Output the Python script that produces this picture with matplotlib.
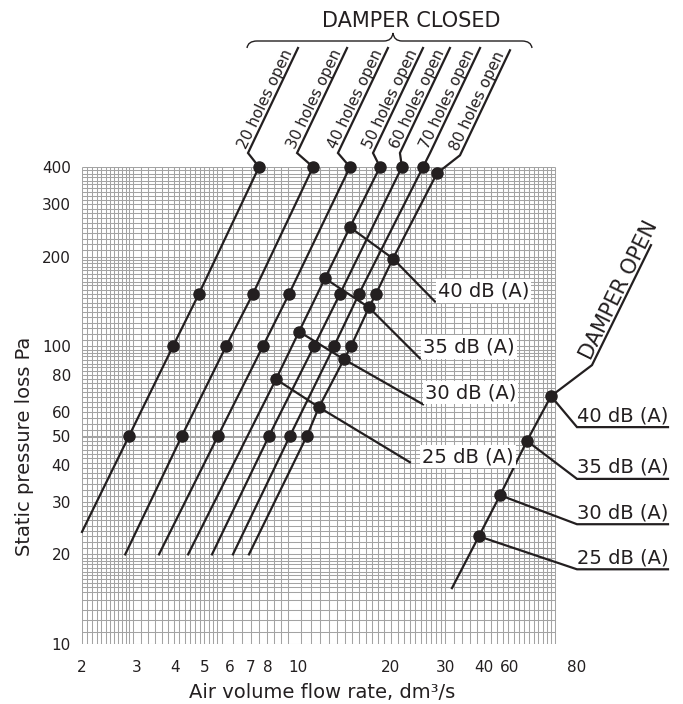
import math
import numpy as np
import matplotlib
matplotlib.use('Agg')
import matplotlib.pyplot as plt
from matplotlib.lines import Line2D
from matplotlib.path import Path
from matplotlib.patches import PathPatch
from matplotlib.ticker import FixedLocator, FixedFormatter, NullLocator

plt.rcParams['font.family'] = ['DejaVu Sans']

W, H = 683, 704
INK = '#231f20'
GRID = '#a3a3a3'

# ---- data ----
hole_labels = ['20 holes open', '30 holes open', '40 holes open', '50 holes open',
               '60 holes open', '70 holes open', '80 holes open']

# lower end of each "damper closed" line
line_start_x = [2.0, 2.76, 3.55, 4.41, 5.27, 6.16, 6.94]
line_start_y = [23.8, 20, 20, 20, 20, 20, 20]

# marked points on each line (last one is the top point the label hangs on)
dots_x = [[2.84, 3.94, 4.78, 7.48],
          [4.21, 5.85, 7.15, 11.19],
          [5.51, 7.70, 9.36, 14.73],
          [18.43],
          [8.06, 11.27, 13.68, 21.7],
          [9.42, 13.08, 15.76, 25.4],
          [10.69, 14.85, 17.89, 28.18]]
dots_y = [[50, 100, 150, 400],
          [50, 100, 150, 400],
          [50, 100, 150, 400],
          [400],
          [50, 100, 150, 400],
          [50, 100, 150, 400],
          [50, 100, 150, 381]]

# sound level points, damper closed (on the 50-holes and 80-holes lines)
db_labels = ['40 dB (A)', '35 dB (A)', '30 dB (A)', '25 dB (A)']
db_50_x = [14.73, 12.23, 10.08, 8.49]
db_50_y = [251, 169, 112, 77.5]
db_80_x = [20.3, 16.97, 14.09, 11.69]
db_80_y = [197, 135, 90.4, 62.4]

# damper open line: lower end, then 25/30/35/40 dB points
open_start = (31.5, 15.4)
open_x = [38.5, 45.1, 55.1, 65.9]
open_y = [23.0, 31.6, 48.1, 68.0]
open_labels = ['25 dB (A)', '30 dB (A)', '35 dB (A)', '40 dB (A)']

x_ticks = [2, 3, 4, 5, 6, 7, 8, 10, 20, 30, 40, 48.5, 80]   # "60" sits right after 40 in the source
x_tick_labels = ['2', '3', '4', '5', '6', '7', '8', '10', '20', '30', '40', '60', '80']
y_ticks = [10, 20, 30, 40, 50, 60, 80, 100, 200, 300, 400]

# ---- figure ----
fig = plt.figure(figsize=(W / 100, H / 100), dpi=100)
ax = fig.add_axes([82 / W, 60 / H, 495 / W, 477 / H])
ax.set_xscale('log')
ax.set_yscale('log')
ax.set_xlim(2, 80)
ax.set_ylim(10, 400)
for s in ax.spines.values():
    s.set_visible(False)

ax.xaxis.set_major_locator(FixedLocator(x_ticks))
ax.xaxis.set_major_formatter(FixedFormatter(x_tick_labels))
ax.xaxis.set_minor_locator(NullLocator())
ax.yaxis.set_major_locator(FixedLocator(y_ticks))
ax.yaxis.set_major_formatter(FixedFormatter([str(v) for v in y_ticks]))
ax.yaxis.set_minor_locator(NullLocator())
ax.tick_params(axis='both', length=0, labelsize=11, colors=INK)
ax.tick_params(axis='x', pad=11.5)
ax.tick_params(axis='y', pad=8)

# log paper background
gx_max = 68
gx = np.concatenate([np.linspace(2, 2.92, 13), np.linspace(3.11, 5.66, 16),
                     np.linspace(6.16, 9.28, 8), np.linspace(10.2, 19, 12),
                     np.linspace(20, 29, 10), np.linspace(30, 48, 10),
                     np.linspace(50, gx_max, 10)])
gy = np.concatenate([np.arange(10, 15, 1.0), np.arange(15, 20, 0.5),
                     np.arange(20, 30, 1.0), np.arange(30, 50, 1.5),
                     np.arange(50, 100, 2.5), np.arange(100, 200, 5.0),
                     np.arange(200, 401, 10.0)])
ax.vlines(gx, 10, 400, color=GRID, lw=0.75, zorder=0)
ax.hlines(gy, 2, gx_max, color=GRID, lw=0.75, zorder=0)

LW = 1.6
MS = 8

# damper closed lines
for i in range(len(hole_labels)):
    px = [line_start_x[i]] + dots_x[i]
    py = [line_start_y[i]] + dots_y[i]
    if i == 3:
        px = [line_start_x[i]] + db_50_x[::-1] + dots_x[i]
        py = [line_start_y[i]] + db_50_y[::-1] + dots_y[i]
    if i == 6:
        px = px + db_80_x
        py = py + db_80_y
    order = np.argsort(py)
    ax.plot(np.array(px)[order], np.array(py)[order], color=INK, lw=LW, clip_on=False, zorder=3)
    ax.plot(dots_x[i], dots_y[i], 'o', color=INK, ms=MS, clip_on=False, zorder=4)
ax.plot(db_50_x, db_50_y, 'o', color=INK, ms=MS, zorder=4)
ax.plot(db_80_x, db_80_y, 'o', color=INK, ms=MS, zorder=4)

# damper open line
ax.plot([open_start[0]] + open_x, [open_start[1]] + open_y, color=INK, lw=LW, clip_on=False, zorder=3)
ax.plot(open_x, open_y, 'o', color=INK, ms=MS, clip_on=False, zorder=4)


# ---- annotation helpers (image pixels, y down) ----
def img_px(xv, yv):
    dx, dy = ax.transData.transform((xv, yv))
    return dx, H - dy


def poly(points, lw=LW, **kw):
    xs = [p[0] / W for p in points]
    ys = [1 - p[1] / H for p in points]
    fig.add_artist(Line2D(xs, ys, transform=fig.transFigure, color=INK, lw=lw,
                          solid_joinstyle='miter', **kw))


def text_px(x, y, s, **kw):
    kw.setdefault('color', INK)
    fig.text(x / W, 1 - y / H, s, **kw)


def along_text(kink, ang, s, size, gap=3, shift=2):
    a = math.radians(ang)
    ux, uy = math.cos(a), -math.sin(a)
    nx, ny = -math.sin(a), -math.cos(a)
    x = kink[0] + shift * ux + gap * nx
    y = kink[1] + shift * uy + gap * ny
    text_px(x, y, s, fontsize=size, rotation=ang, rotation_mode='anchor',
            ha='left', va='baseline')


# hole labels at the top
kink_off = [(-11, -14), (-16, -14), (-12, -14), (-7, -14), (-2, -14), (7, -14), (23, -18)]
lead = (50, -105)
ang = math.degrees(math.atan2(105, 50))
for i, lab in enumerate(hole_labels):
    p = img_px(dots_x[i][-1], dots_y[i][-1])
    k = (p[0] + kink_off[i][0], p[1] + kink_off[i][1])
    poly([p, k, (k[0] + lead[0], k[1] + lead[1])])
    along_text(k, ang, lab, 11)

# brace + DAMPER CLOSED
bv = [(247, 48), (248, 41), (257, 41), (384, 41), (392, 41), (393, 33),
      (394, 41), (402, 41), (522, 41), (531, 41), (532, 48)]
bc = [Path.MOVETO, Path.CURVE3, Path.CURVE3, Path.LINETO, Path.CURVE3, Path.CURVE3,
      Path.CURVE3, Path.CURVE3, Path.LINETO, Path.CURVE3, Path.CURVE3]
brace = Path([(x / W, 1 - y / H) for x, y in bv], bc)
fig.add_artist(PathPatch(brace, transform=fig.transFigure, fc='none', ec=INK, lw=1.0))
text_px(411, 21, 'DAMPER CLOSED', fontsize=15, ha='center', va='center')

# sound level leaders, damper closed
end_off = [(42, 43), (51, 51), (79, 45), (91, 55)]
txt_off = [(3, -5), (3, -6), (2, -6), (12, 0)]
for i, lab in enumerate(db_labels):
    a = img_px(db_50_x[i], db_50_y[i])
    b = img_px(db_80_x[i], db_80_y[i])
    e = (b[0] + end_off[i][0], b[1] + end_off[i][1])
    poly([a, b, e], zorder=2.5)
    text_px(e[0] + txt_off[i][0], e[1] + txt_off[i][1], lab, fontsize=14,
            ha='left', va='baseline', zorder=2.6,
            bbox=dict(fc='white', ec='none', pad=1.5))

# sound level leaders, damper open
corner_x, end_x = 577, 668
drop = [33, 29, 38, 31]
for i, lab in enumerate(open_labels):
    p = img_px(open_x[i], open_y[i])
    c = (corner_x, p[1] + drop[i])
    poly([p, c, (end_x, c[1])])
    text_px((corner_x + end_x) / 2, c[1] - 6, lab, fontsize=14, ha='center', va='baseline')

# DAMPER OPEN
p = img_px(open_x[-1], open_y[-1])
k = (p[0] + 41, p[1] - 31)
poly([p, k, (k[0] + 59, k[1] - 120)])
along_text(k, math.degrees(math.atan2(120, 59)), 'DAMPER OPEN', 15, gap=3, shift=3)

# axis titles
text_px(25, 446, 'Static pressure loss Pa', fontsize=14, rotation=90, ha='center', va='center')
text_px(322, 693, 'Air volume flow rate, dm³/s', fontsize=14, ha='center', va='center')

fig.savefig('out.png', dpi=100)
